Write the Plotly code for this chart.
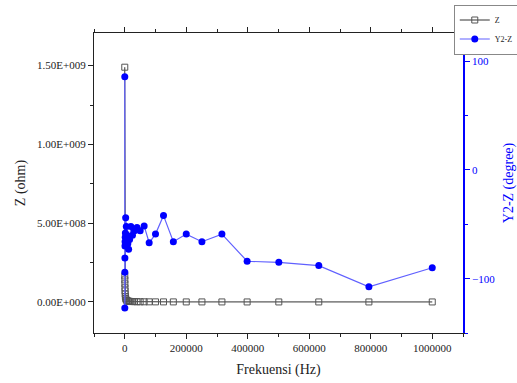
import plotly.graph_objects as go

# Frequency sweep (Hz)
freq = [100, 200, 300, 500, 700, 1000, 1500, 2000, 3000, 5000, 7000, 10000,
        12600, 15800, 20000, 25100, 31600, 39800, 50100, 63100, 79400, 100000,
        126000, 158000, 200000, 251000, 316000, 398000, 501000, 631000, 794000, 1000000]

# Impedance magnitude Z (ohm)
z_ohm = [1.49e9, 1.65e8, 1.40e8, 1.15e8, 9.0e7, 7.0e7, 5.0e7, 3.5e7, 2.2e7, 1.3e7,
         9.0e6, 6.0e6, 4.8e6, 3.8e6, 3.0e6, 2.4e6, 1.9e6, 1.5e6, 1.2e6, 9.5e5,
         7.6e5, 6.0e5, 4.8e5, 3.8e5, 3.0e5, 2.4e5, 1.9e5, 1.5e5, 1.2e5, 9.5e4, 7.6e4, 6.0e4]

# Phase Y2-Z (degree)
phase_deg = [85.8, -127, -94, -81, -70, -66, -62, -58, -44, -52, -60, -68,
             -73, -64, -52, -60, -56, -53, -56, -51.5, -67, -59,
             -42, -66, -59, -66, -59, -84, -85, -88, -107.5, -90]

x_ticks = [0, 200000, 400000, 600000, 800000, 1000000]
x_ticktext = ["0", "200000", "400000", "600000", "800000", "1000000"]
y_ticks = [0, 5e8, 1e9, 1.5e9]
y_ticktext = ["0.00E+000", "5.00E+008", "1.00E+009", "1.50E+009"]
y2_ticks = [-100, 0, 100]

FONT = "Liberation Serif"
BLUE = "#0000ff"
INK = "#222222"

fig = go.Figure()
fig.add_trace(go.Scatter(
    x=freq, y=z_ohm, name="Z", mode="lines+markers",
    line=dict(color="#333333", width=1),
    marker=dict(symbol="square-open", size=6, color="#555555", line=dict(width=1)),
))
fig.add_trace(go.Scatter(
    x=freq, y=phase_deg, name="Y2-Z", mode="lines+markers", yaxis="y2",
    line=dict(color="#6060ff", width=1.2),
    marker=dict(symbol="circle", size=7, color=BLUE),
))

fig.update_layout(
    width=517, height=383,
    margin=dict(l=94, r=54, t=33, b=50, autoexpand=False),
    paper_bgcolor="white", plot_bgcolor="white",
    font=dict(family=FONT, size=11, color=INK),
    showlegend=True,
    legend=dict(x=0.975, y=1.095, xanchor="left", yanchor="top",
                bordercolor="#888888", borderwidth=1, bgcolor="white",
                font=dict(size=8, family=FONT, color=INK), tracegroupgap=0,
                itemwidth=30),
    xaxis=dict(
        range=[-100000, 1100000], tickvals=x_ticks, ticktext=x_ticktext,
        showgrid=False, zeroline=False, showline=True, linecolor=INK, linewidth=1,
        mirror="ticks", ticks="outside", ticklen=5, tickcolor=INK,
        minor=dict(ticks="outside", ticklen=3, dtick=100000, tick0=0, tickcolor=INK),
        title=dict(text="Frekuensi (Hz)", font=dict(size=14, family=FONT, color=INK), standoff=10),
    ),
    yaxis=dict(
        range=[-1.97e8, 1.707e9], tickvals=y_ticks, ticktext=y_ticktext,
        showgrid=False, zeroline=False, showline=True, linecolor=INK, linewidth=1,
        ticks="outside", ticklen=5, tickcolor=INK,
        minor=dict(ticks="outside", ticklen=3, dtick=2.5e8, tick0=0, tickcolor=INK),
        title=dict(text="Z (ohm)", font=dict(size=14, family=FONT, color=INK), standoff=8),
    ),
    yaxis2=dict(
        range=[-150, 126], tickvals=y2_ticks, overlaying="y", side="right",
        showgrid=False, zeroline=False, showline=True, linecolor=BLUE, linewidth=1.5,
        ticks="outside", ticklen=5, tickcolor=BLUE, tickfont=dict(color=BLUE, size=11),
        minor=dict(ticks="outside", ticklen=3, dtick=50, tick0=0, tickcolor=BLUE),
        title=dict(text="Y2-Z (degree)", font=dict(size=14, family=FONT, color=BLUE), standoff=16),
    ),
)

fig.write_html("out.html")
